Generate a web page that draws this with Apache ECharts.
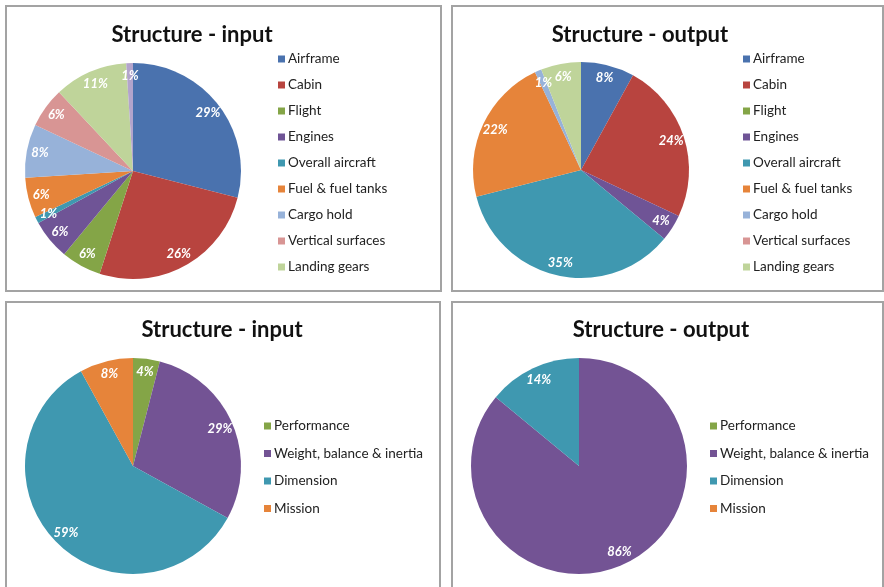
<!DOCTYPE html>
<html>
<head>
<meta charset="utf-8">
<script src="https://cdn.jsdelivr.net/npm/echarts@6/dist/echarts.min.js"></script>
<style>
  html, body { margin: 0; padding: 0; background: #ffffff; }
  #chart { width: 884px; height: 587px; }
</style>
</head>
<body>
<div id="chart"></div>
<script>
// Component categories (top row) and their shares, in percent
const componentNames = ['Airframe', 'Cabin', 'Flight', 'Engines', 'Overall aircraft',
  'Fuel & fuel tanks', 'Cargo hold', 'Vertical surfaces', 'Landing gears', 'Other'];
const componentLegend = componentNames.slice(0, 9);
const componentInput = [29, 26, 6, 6, 1, 6, 8, 6, 11, 1];
const componentOutput = [8, 24, 0, 4, 35, 22, 1, 0, 6, 0];
const componentColors = ['#4a72ae', '#b8443f', '#84a547', '#6f5496', '#3f98b0',
  '#e6843a', '#97b2d9', '#d89594', '#bfd49a', '#b3a4cc'];

// Discipline categories (bottom row) and their shares, in percent
const disciplineNames = ['Performance', 'Weight, balance & inertia', 'Dimension', 'Mission'];
const disciplineInput = [4, 29, 59, 8];
const disciplineOutput = [0, 86, 14, 0];
const disciplineColors = ['#84a547', '#735394', '#3f98b0', '#e6843a'];

const titles = ['Structure - input', 'Structure - output', 'Structure - input', 'Structure - output'];

const FONT = 'Lato, "Open Sans", sans-serif';
const R = 108;

const panels = [
  { box: [6, 6, 435, 285], center: [133, 171], title: [187, 19], legend: [273, 47], gap: 12,
    names: componentNames, legendNames: componentLegend, values: componentInput, colors: componentColors },
  { box: [452, 6, 431, 285], center: [581, 170], title: [635, 19], legend: [738, 47], gap: 12,
    names: componentNames, legendNames: componentLegend, values: componentOutput, colors: componentColors },
  { box: [6, 302, 434, 300], center: [133, 466], title: [217, 314], legend: [259, 414], gap: 13.5,
    names: disciplineNames, legendNames: disciplineNames, values: disciplineInput, colors: disciplineColors },
  { box: [452, 302, 431, 300], center: [579, 466], title: [656, 314], legend: [705, 414], gap: 13.5,
    names: disciplineNames, legendNames: disciplineNames, values: disciplineOutput, colors: disciplineColors }
];

const title = [], legend = [], series = [], graphic = [];

panels.forEach((p, i) => {
  graphic.push({
    type: 'rect', z: -1, silent: true,
    shape: { x: p.box[0], y: p.box[1], width: p.box[2], height: p.box[3] },
    style: { fill: '#ffffff', stroke: '#a3a3a3', lineWidth: 2 }
  });
  title.push({
    text: titles[i], left: p.title[0], top: p.title[1], textAlign: 'center',
    textStyle: { fontFamily: FONT, fontWeight: 'bold', fontSize: 22, color: '#111111' }
  });
  const data = p.names.map((n, k) => ({ name: n, value: p.values[k], itemStyle: { color: p.colors[k] } }));
  legend.push({
    orient: 'vertical', left: p.legend[0], top: p.legend[1],
    data: p.legendNames, itemWidth: 7, itemHeight: 7, itemGap: p.gap,
    icon: 'rect', selectedMode: false,
    textStyle: { fontFamily: FONT, fontSize: 13.5, color: '#222222', padding: [0, 0, 0, -2], lineHeight: 14 }
  });
  // filled sectors
  series.push({
    type: 'pie', center: p.center, radius: [0, R], startAngle: 90, clockwise: true,
    silent: true, animation: false, label: { show: false }, labelLine: { show: false },
    itemStyle: { borderWidth: 0 }, data: data
  });
  // transparent outer ring carrying the percentage labels near the rim
  series.push({
    type: 'pie', center: p.center, radius: [R * 0.7, R], startAngle: 90, clockwise: true,
    silent: true, animation: false, labelLine: { show: false },
    itemStyle: { color: 'rgba(0,0,0,0)', borderWidth: 0 },
    label: {
      show: true, position: 'inside',
      formatter: (d) => (d.value > 0 ? d.value + '%' : ''),
      fontFamily: FONT, fontWeight: 'bold', fontStyle: 'italic', fontSize: 13, color: '#ffffff'
    },
    data: p.names.map((n, k) => ({ name: n, value: p.values[k] }))
  });
});

const chart = echarts.init(document.getElementById('chart'));
chart.setOption({
  backgroundColor: '#ffffff',
  animation: false,
  title: title,
  legend: legend,
  graphic: graphic,
  series: series
});
</script>
</body>
</html>
